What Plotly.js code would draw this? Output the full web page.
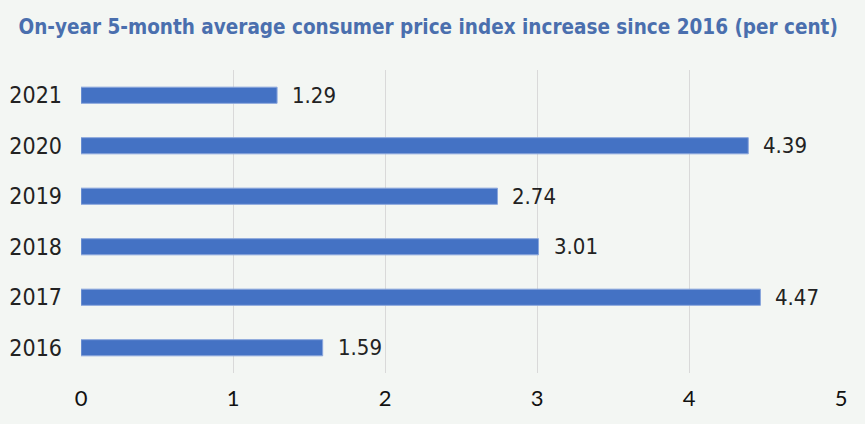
<!DOCTYPE html>
<html>
<head>
<meta charset="utf-8">
<script src="https://cdn.plot.ly/plotly-3.0.1.min.js"></script>
<style>
html,body{margin:0;padding:0;background:#f3f6f3;}
#chart{width:865px;height:424px;}
</style>
</head>
<body>
<div id="chart"></div>
<script>
const years = [2016, 2017, 2018, 2019, 2020, 2021];
const values = [1.59, 4.47, 3.01, 2.74, 4.39, 1.29];
const labels = ['1.59', '4.47', '3.01', '2.74', '4.39', '1.29'];
const xTicks = [0, 1, 2, 3, 4, 5];

const narrow = '"DejaVu Sans Condensed", "Liberation Sans Narrow", Roboto, sans-serif';

const trace = {
  type: 'bar',
  orientation: 'h',
  y: years,
  x: values,
  width: 0.32,
  marker: {color: '#4472c4', line: {color: '#8aa6dc', width: 1}},
  hoverinfo: 'none'
};

const annotations = years.map((y, i) => ({
  x: values[i], y: y, xref: 'x', yref: 'y',
  text: labels[i], showarrow: false,
  xanchor: 'left', yanchor: 'middle', xshift: 13,
  font: {family: narrow, size: 22, color: '#222222'}
}));

const layout = {
  width: 865, height: 424,
  paper_bgcolor: '#f3f6f3', plot_bgcolor: '#f3f6f3',
  margin: {l: 81, r: 24, t: 70, b: 51},
  showlegend: false,
  title: {
    text: '<b>On-year 5-month average consumer price index increase since 2016 (per cent)</b>',
    x: 0.495, xanchor: 'center', y: 0.937, yanchor: 'middle',
    font: {family: narrow, size: 20.5, color: '#4a6fae'}
  },
  xaxis: {
    range: [0, 5], tickvals: xTicks, ticktext: xTicks.map(String),
    showgrid: true, gridcolor: '#d9d9d9', gridwidth: 1,
    zeroline: false, showline: false, ticks: '',
    ticklabelstandoff: 10,
    tickfont: {family: 'Lato, "Open Sans", sans-serif', size: 22, color: '#111111'},
    fixedrange: true
  },
  yaxis: {
    type: 'linear', range: [2015.5, 2021.5],
    tickvals: years, ticktext: years.map(String),
    showgrid: false, zeroline: false, showline: false, ticks: '',
    ticklabelstandoff: 18,
    tickfont: {family: narrow, size: 23, color: '#222222'},
    fixedrange: true
  },
  annotations: annotations
};

Plotly.newPlot('chart', [trace], layout, {displayModeBar: false, staticPlot: true});
</script>
</body>
</html>
